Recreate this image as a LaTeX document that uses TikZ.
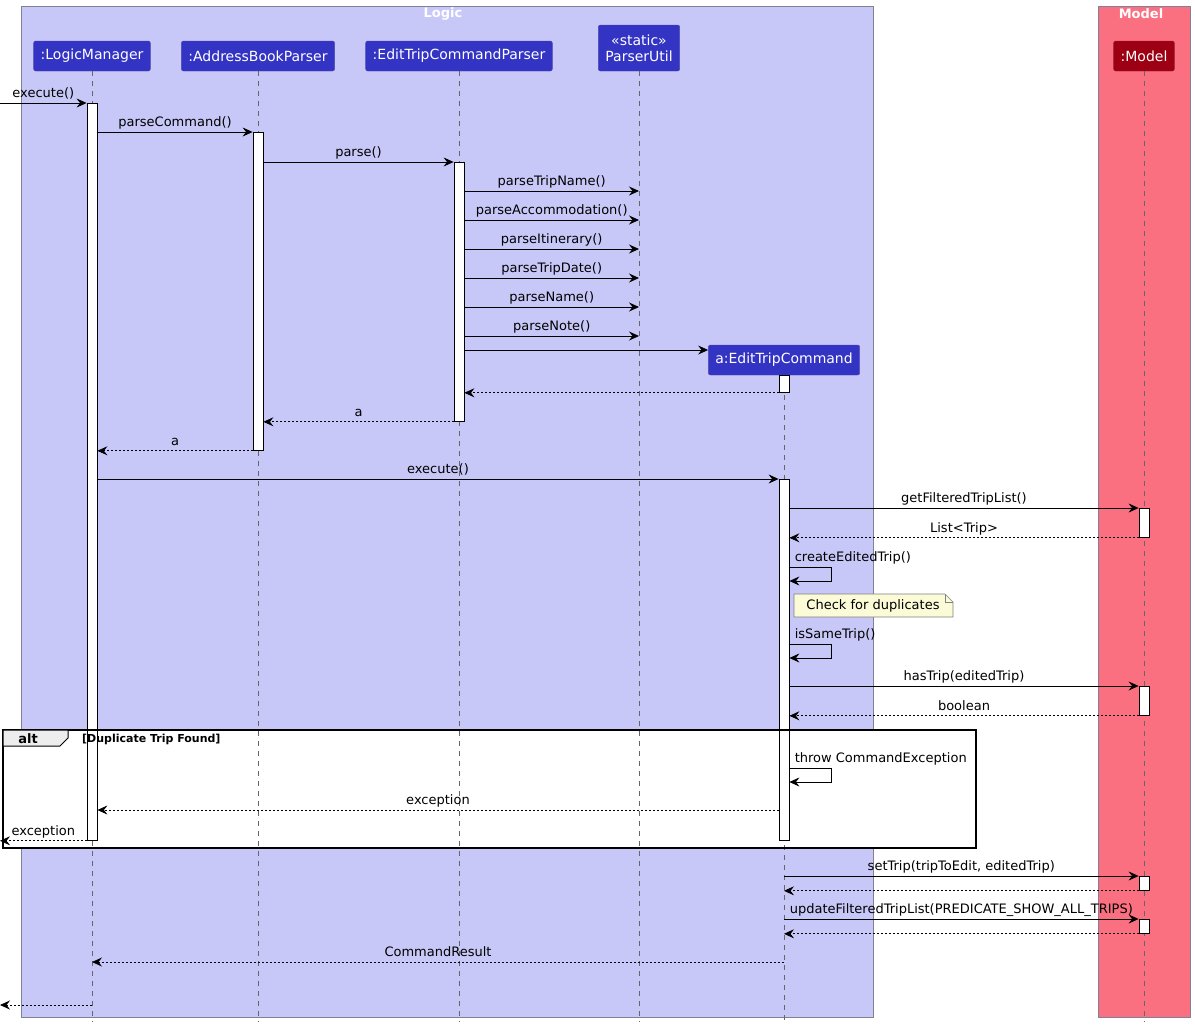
\documentclass[tikz,border=0pt]{standalone}
\usepackage{fontspec}
\setmainfont{DejaVu Sans}
\usepackage{xcolor}
\usepackage{tikz}
\usetikzlibrary{positioning,arrows.meta}

\definecolor{logicbg}{RGB}{200,200,248}
\definecolor{modelbg}{RGB}{250,112,128}
\definecolor{boxedge}{RGB}{128,128,150}
\definecolor{partblue}{RGB}{51,51,196}
\definecolor{partred}{RGB}{157,0,18}
\definecolor{notebg}{RGB}{251,251,215}

\begin{document}
\begin{tikzpicture}[
        x=1pt, y=-1pt,
        grp/.style={draw=boxedge, line width=0.8pt},
        grptitle/.style={text=white, font=\fontsize{13}{15}\selectfont\bfseries},
        part/.style={draw=partblue!70!gray, fill=partblue, text=white, rounded corners=2pt, minimum height=30pt, inner xsep=7pt, font=\fontsize{14}{16}\selectfont},
        act/.style={draw, fill=white, line width=0.8pt, minimum width=10pt, inner sep=0pt, anchor=north},
        life/.style={draw=black!60, dash pattern=on 5pt off 5pt, line width=0.7pt},
        msg/.style={-{Stealth[length=10pt, width=9pt, inset=3.5pt]}, line width=0.8pt},
        ret/.style={msg, dash pattern=on 2pt off 2pt},
        lbl/.style={midway, above, inner sep=2pt, text height=10pt, text depth=3pt, font=\fontsize{13}{15}\selectfont},
        selflbl/.style={at start, anchor=south west, xshift=3pt, inner sep=2pt, text height=10pt, text depth=3pt, font=\fontsize{13}{15}\selectfont},
        fragtext/.style={font=\fontsize{11}{13}\selectfont\bfseries}
    ]
        \useasboundingbox (0,0) rectangle (1195,1029);
        \coordinate (entry) at (0,0);

        % boxes
        \draw[grp, fill=logicbg] (21,6) rectangle (873,1017);
        \draw[grp, fill=modelbg] (1098,6) rectangle (1190,1017);
        \node[grptitle] (logicttl) at (443,14) {Logic};
        \node[grptitle] (modelttl) at (1141,14) {Model};

        % alt frame background
        \fill[white] (3,730) rectangle (976,848);

        % participants
        \node[part] (lm) at (92,56) {:LogicManager};
        \node[part] (abp) at (258,56) {:AddressBookParser};
        \node[part] (etcp) at (459,56) {:EditTripCommandParser};
        \node[part, align=center, minimum height=46pt] (pu) at (639,48) {«static»\\ParserUtil};
        \node[part, fill=partred, draw=partred!70!gray] (mdl) at (1144,56) {:Model};
        \node[part] (etc) at (784,360) {a:EditTripCommand};

        % lifelines
        \draw[life] (lm.south) -- (lm |- 0,1022);
        \draw[life] (abp.south) -- (abp |- 0,1022);
        \draw[life] (etcp.south) -- (etcp |- 0,1022);
        \draw[life] (pu.south) -- (pu |- 0,1022);
        \draw[life] (mdl.south) -- (mdl |- 0,1022);
        \draw[life] (etc.south) -- (etc |- 0,1022);

        % activations
        \node[act, minimum height=737pt] (lmA) at (92,103) {};
        \node[act, minimum height=318pt] (abpA) at (258,132) {};
        \node[act, minimum height=259pt] (etcpA) at (459,162) {};
        \node[act, minimum height=17pt] (etcA1) at (784,375) {};
        \node[act, minimum height=361pt] (etcA2) at (784,479) {};
        \node[act, minimum height=29pt] (mdlA1) at (1144,508) {};
        \node[act, minimum height=29pt] (mdlA2) at (1144,686) {};
        \node[act, minimum height=14pt] (mdlA3) at (1144,876) {};
        \node[act, minimum height=14pt] (mdlA4) at (1144,919) {};

        % parsing
        \draw[msg] (entry |- lmA.north) -- (lmA.north west) node[lbl] {execute()};
        \draw[msg] (lmA.east |- abpA.north) -- (abpA.north west) node[lbl] {parseCommand()};
        \draw[msg] (abpA.east |- etcpA.north) -- (etcpA.north west) node[lbl] {parse()};
        \draw[msg] (etcpA.east |- 0,191) -- (pu |- 0,191) node[lbl] {parseTripName()};
        \draw[msg] (etcpA.east |- 0,220) -- (pu |- 0,220) node[lbl] {parseAccommodation()};
        \draw[msg] (etcpA.east |- 0,249) -- (pu |- 0,249) node[lbl] {parseItinerary()};
        \draw[msg] (etcpA.east |- 0,278) -- (pu |- 0,278) node[lbl] {parseTripDate()};
        \draw[msg] (etcpA.east |- 0,307) -- (pu |- 0,307) node[lbl] {parseName()};
        \draw[msg] (etcpA.east |- 0,336) -- (pu |- 0,336) node[lbl] {parseNote()};
        \draw[msg] (etcpA.east |- 0,350) -- (etc.west |- 0,350);
        \draw[ret] (etcA1.south west) -- (etcpA.east |- etcA1.south);
        \draw[ret] (etcpA.south west) -- (abpA.east |- etcpA.south) node[lbl] {a};
        \draw[ret] (abpA.south west) -- (lmA.east |- abpA.south) node[lbl] {a};

        % executing
        \draw[msg] (lmA.east |- etcA2.north) -- (etcA2.north west) node[lbl] {execute()};
        \draw[msg] (etcA2.east |- mdlA1.north) -- (mdlA1.north west) node[lbl] {getFilteredTripList()};
        \draw[ret] (mdlA1.south west) -- (etcA2.east |- mdlA1.south) node[lbl] {List<Trip>};
        \draw[msg] (etcA2.east |- 0,567) -- ++(42,0) node[selflbl] {createEditedTrip()} -- ++(0,14) -- (etcA2.east |- 0,581);

        % note
        \draw[draw=black!50, fill=notebg, line width=0.6pt] (794,594) -- (945,594) -- (953,602) -- (953,617) -- (794,617) -- cycle;
        \draw[draw=black!50, line width=0.6pt] (945,594) -- (945,602) -- (953,602);
        \node[font=\fontsize{13}{15}\selectfont] (chk) at (873,605.5) {Check for duplicates};

        \draw[msg] (etcA2.east |- 0,644) -- ++(42,0) node[selflbl] {isSameTrip()} -- ++(0,14) -- (etcA2.east |- 0,658);
        \draw[msg] (etcA2.east |- mdlA2.north) -- (mdlA2.north west) node[lbl] {hasTrip(editedTrip)};
        \draw[ret] (mdlA2.south west) -- (etcA2.east |- mdlA2.south) node[lbl] {boolean};

        % duplicate branch
        \draw[msg] (etcA2.east |- 0,768) -- ++(42,0) node[selflbl] {throw CommandException} -- ++(0,14) -- (etcA2.east |- 0,782);
        \draw[ret] (etcA2.west |- 0,810) -- (lmA.east |- 0,810) node[lbl] {exception};
        \draw[ret] (lmA.south west) -- (entry |- lmA.south) node[lbl] {exception};

        % alt frame
        \draw[line width=1.5pt] (3,730) rectangle (976,848);
        \draw[fill=black!7, line width=1pt] (3,730) -- (68,730) -- (68,738) -- (60,746) -- (3,746) -- cycle;
        \node[fragtext, font=\fontsize{13}{15}\selectfont\bfseries] (altlbl) at (28,739) {alt};
        \node[fragtext, anchor=west, inner sep=0pt] (guard) at (82,739) {[Duplicate Trip Found]};

        % updating model
        \draw[msg] (etcA2 |- mdlA3.north) -- (mdlA3.north west) node[lbl] {setTrip(tripToEdit, editedTrip)};
        \draw[ret] (mdlA3.south west) -- (etcA2 |- mdlA3.south);
        \draw[msg] (etcA2 |- mdlA4.north) -- (mdlA4.north west) node[lbl] {updateFilteredTripList(PREDICATE\_SHOW\_ALL\_TRIPS)};
        \draw[ret] (mdlA4.south west) -- (etcA2 |- mdlA4.south);
        \draw[ret] (etcA2 |- 0,962) -- (lm |- 0,962) node[lbl] {CommandResult};
        \draw[ret] (lm |- 0,1005) -- (entry |- 0,1005);
    \end{tikzpicture}
\end{document}
